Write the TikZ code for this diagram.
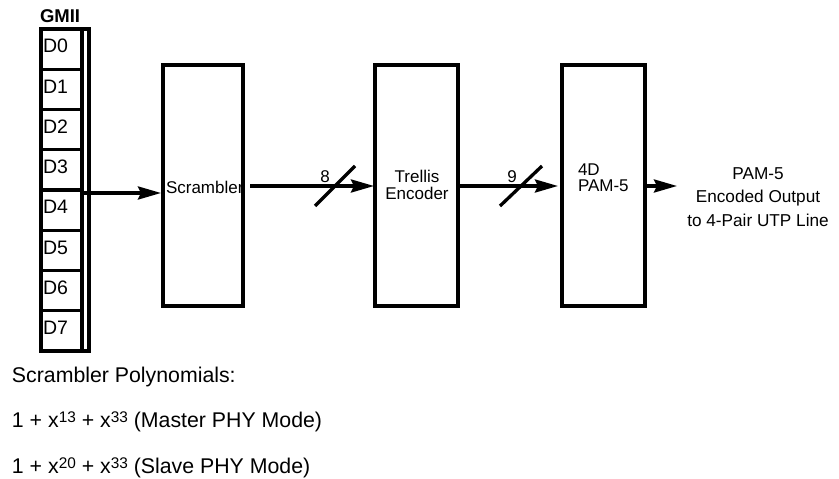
\documentclass[tikz,border=0pt]{standalone}
\usepackage{fontspec}
\setmainfont{Liberation Sans}
\usetikzlibrary{arrows.meta,positioning}

\newcommand\polyexp[1]{\raisebox{5pt}{\fontsize{15.4}{16}\selectfont #1}}

\begin{document}
\begin{tikzpicture}
  [x=1pt, y=-1pt,
    every node/.style={inner sep=0pt, outer sep=0pt, font=\fontsize{17}{18}\selectfont},
    cell/.style={draw, line width=3.3pt, minimum height=40.25pt, text width=37pt, inner xsep=2pt,
      text depth=6pt, align=left, font=\fontsize{19.5}{20}\selectfont},
    busbar/.style={draw, line width=3.3pt, minimum width=7pt, minimum height=322pt, anchor=north west},
    box/.style={draw, line width=3.3pt, minimum height=241pt},
    sig/.style={line width=3.3pt, -{Stealth[length=23pt, width=13pt, inset=3pt]}},
    slash/.style={line width=3.3pt},
    poly/.style={anchor=base west, font=\fontsize{21.3}{22}\selectfont},
]
\useasboundingbox (0,0) rectangle (839,479);

% GMII register
\node[cell, anchor=north west] (d0) at (41,29) {D0};
\node[cell, below=0pt of d0] (d1) {D1};
\node[cell, below=0pt of d1] (d2) {D2};
\node[cell, below=0pt of d2] (d3) {D3};
\node[cell, below=0pt of d3] (d4) {D4};
\node[cell, below=0pt of d4] (d5) {D5};
\node[cell, below=0pt of d5] (d6) {D6};
\node[cell, below=0pt of d6] (d7) {D7};
\node[busbar] (bus) at (d0.north east) {};
\node[anchor=base west, font=\fontsize{18.5}{19}\selectfont\bfseries] (gmii) at (40,22) {GMII};

% blocks
\node[box, minimum width=80pt] (scr) at (203,185.5) {};
\node[box, minimum width=83pt] (trel) at (416.5,185.5) {};
\node[box, minimum width=83pt] (pam) at (603.5,185.5) {};
\node[anchor=base west] (scrtxt) at (166,193) {Scrambler};
\node[align=center, font=\fontsize{17}{17.5}\selectfont] (treltxt) at (417,185) {Trellis\\Encoder};
\node[align=left, anchor=west, font=\fontsize{17}{16}\selectfont] (pamtxt) at (578,178) {4D\\PAM-5};

% connectors
\coordinate (s8) at (335,186);
\coordinate (s9) at (521,186);
\draw[sig] ([yshift=-3pt]d4.north east) -- ([xshift=-2pt, yshift=-3pt]d4.north east -| scr.west);
\draw[sig] ([xshift=7pt]scr.east |- s8) -- ([xshift=-1pt]trel.west |- s8);
\draw[slash] ([shift={(-20,20)}]s8) -- ([shift={(20,-20)}]s8);
\node (n8) at (325,177) {8};
\draw[sig] (trel.east |- s9) -- ([xshift=-4pt]pam.west |- s9);
\draw[slash] ([shift={(-21,20)}]s9) -- ([shift={(21,-20)}]s9);
\node (n9) at (512,177) {9};
\draw[sig] (pam.east |- s9) -- ++(32,0) coordinate (outend);
\node[align=center, font=\fontsize{17.2}{23.5}\selectfont] (out) at (758,197) {PAM-5\\Encoded Output\\to 4-Pair UTP Line};

% polynomials
\node[poly] (polytitle) at (12,382) {Scrambler Polynomials:};
\node[poly] (master) at (12,427.5) {1 + x\polyexp{13} + x\polyexp{33} (Master PHY Mode)};
\node[poly] (slave) at (12,473) {1 + x\polyexp{20} + x\polyexp{33} (Slave PHY Mode)};
\end{tikzpicture}
\end{document}
